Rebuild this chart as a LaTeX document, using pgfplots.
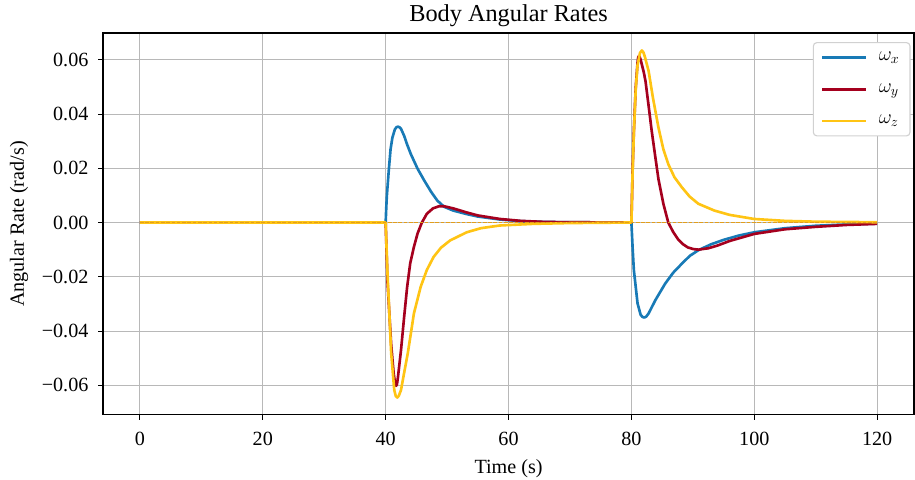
\documentclass[border=0pt]{standalone}
\usepackage{fontspec}
\setmainfont{Liberation Serif}
\usepackage{pgfplots}
\pgfplotsset{compat=1.18}
\definecolor{wxcol}{RGB}{24,122,182}
\definecolor{wycol}{RGB}{165,0,30}
\definecolor{wzcol}{RGB}{255,196,20}
\definecolor{refcol}{RGB}{226,158,28}
\begin{document}
\fontsize{14.5}{17}\selectfont
\begin{tikzpicture}
\begin{axis}[name=ax,scale only axis,width=584pt,height=275pt,
  xmin=-6,xmax=126,ymin=-0.0709,ymax=0.0698,
  scaled y ticks=false,
  xtick={0,20,40,60,80,100,120},xticklabels={0,20,40,60,80,100,120},
  ytick={-0.06,-0.04,-0.02,0,0.02,0.04,0.06},
  yticklabels={−0.06,−0.04,−0.02,0.00,0.02,0.04,0.06},
  tick align=outside,major tick length=3.5pt,tick style={black,line width=0.6pt},
  xtick pos=lower,ytick pos=left,
  grid=major,grid style={line width=0.6pt,draw=black!28},
  axis line style={line width=0.8pt},
  tick label style={font=\fontsize{14.5}{17}\selectfont},
  xticklabel style={anchor=base,yshift=-18.5pt},
  yticklabel style={anchor=east,xshift=-2pt},
  label style={font=\fontsize{14.5}{17}\selectfont,inner sep=0pt},
  xlabel style={at={([yshift=-42.5pt]axis description cs:0.5,0)},anchor=base},
  ylabel style={at={([xshift=-57pt]axis description cs:0,0.5)},anchor=base},
  title style={font=\fontsize{17.5}{20}\selectfont,inner sep=0pt,at={([yshift=2.6pt]axis description cs:0.5,1)},anchor=base},
  title={Body Angular Rates},
  xlabel={Time (s)},ylabel={Angular Rate (rad/s)},
  legend style={at={(1,1)},anchor=north east,xshift=-2.5pt,yshift=-6.5pt,
    draw=black!18,rounded corners=2.5pt,line width=0.8pt,
    font=\fontsize{14.5}{17}\selectfont,row sep=10.5pt,column sep=6pt,
    inner xsep=5.5pt,inner ysep=4.5pt},
  legend cell align=left,
  legend image code/.code={\draw[#1,line width=1.9pt] (0pt,0pt) -- (31.7pt,0pt);}]
\addplot[wxcol,line width=1.9pt,line join=round] coordinates {(0,0) (40,0) (40.1,0.0055) (40.2,0.010) (40.5,0.019) (40.8,0.027) (41.1,0.0313) (41.5,0.0343) (41.75,0.0351) (42.0,0.0353) (42.25,0.0351) (42.5,0.0345) (43.0,0.0320) (43.5,0.0287) (44.1,0.0252) (45.2,0.0198) (46.3,0.0154) (47.4,0.0113) (48.4,0.0081) (49.5,0.0058) (51,0.0044) (53.2,0.0031) (55,0.0022) (58.6,0.0011) (62,0.0005) (66,0.0002) (70,0.0001) (80,0)
 (80.2,-0.0095) (80.4,-0.0176) (81.0,-0.0298) (81.5,-0.0340) (81.8,-0.0348) (82.1,-0.0350) (82.4,-0.0347) (82.8,-0.0335) (83.9,-0.0286) (85.5,-0.0225) (86.8,-0.0185) (88.2,-0.0152) (89.5,-0.0123) (90.9,-0.0102) (93,-0.0080) (95,-0.0064) (97.5,-0.0048) (100,-0.0036) (105,-0.0021) (110,-0.0012) (115,-0.0007) (120,-0.0004)};
\addlegendentry{$\omega_x$}
\addplot[wycol,line width=1.9pt,line join=round] coordinates {(0,0) (40,0) (40.3,-0.022) (40.9,-0.045) (41.3,-0.0555) (41.55,-0.0595) (41.7,-0.0602) (41.85,-0.0595) (42.0,-0.057) (42.5,-0.047) (43.0,-0.035) (43.5,-0.0237) (44.0,-0.015) (44.6,-0.009) (45.2,-0.004) (45.9,0) (46.7,0.0032) (47.7,0.0052) (48.7,0.0060) (49.5,0.0060) (51,0.0052) (53.2,0.0037) (55,0.0026) (58.6,0.0013) (62,0.0006) (66,0.0002) (70,0.0001) (80,0)
 (80.2,0.020) (80.4,0.0338) (80.7,0.0497) (81.0,0.0590) (81.1,0.0607) (81.2,0.0613) (81.35,0.0610) (81.5,0.0600) (81.7,0.0582) (82.0,0.0555) (82.3,0.0520) (82.8,0.0430) (83.3,0.0338) (83.9,0.0240) (84.4,0.0160) (85.2,0.0069) (86.0,0) (86.8,-0.0035) (87.6,-0.0062) (88.4,-0.0080) (89.2,-0.0092) (90.1,-0.0098) (90.9,-0.0100) (92.5,-0.0095) (94,-0.0085) (96,-0.0068) (100,-0.0042) (105,-0.0025) (110,-0.0016) (115,-0.0009) (120,-0.0005)};
\addlegendentry{$\omega_y$}
\addplot[wzcol,line width=1.9pt,line join=round] coordinates {(0,0) (40,0) (40.3,-0.0188) (40.9,-0.0482) (41.4,-0.0617) (41.65,-0.0640) (41.9,-0.0645) (42.15,-0.0638) (42.5,-0.0617) (43.0,-0.0555) (43.6,-0.0482) (44.1,-0.0409) (44.6,-0.0335) (45.7,-0.0237) (46.7,-0.0175) (47.8,-0.0127) (49,-0.0093) (50.5,-0.0066) (53.2,-0.0036) (55.5,-0.0021) (58.6,-0.0011) (64,-0.0005) (70,-0.0002) (80,0)
 (80.2,0.019) (80.4,0.033) (80.7,0.049) (81.0,0.058) (81.4,0.0625) (81.7,0.0634) (81.95,0.0627) (82.2,0.061) (82.8,0.0558) (83.5,0.046) (84.4,0.035) (85.2,0.027) (86.0,0.0215) (87,0.0167) (88.2,0.0130) (89.5,0.0095) (90.9,0.0069) (93.5,0.0044) (96,0.0028) (100,0.0013) (105,0.0006) (110,0.0003) (120,0.0001)};
\addlegendentry{$\omega_z$}
\addplot[refcol,line width=0.9pt,dash pattern=on 2.6pt off 1.2pt,forget plot] coordinates {(0,0) (120,0)};
\end{axis}
\path (ax.south west) ++(-74.2pt,-46.8pt) rectangle ([xshift=0.7pt,yshift=23.8pt]ax.north east);
\end{tikzpicture}
\end{document}
